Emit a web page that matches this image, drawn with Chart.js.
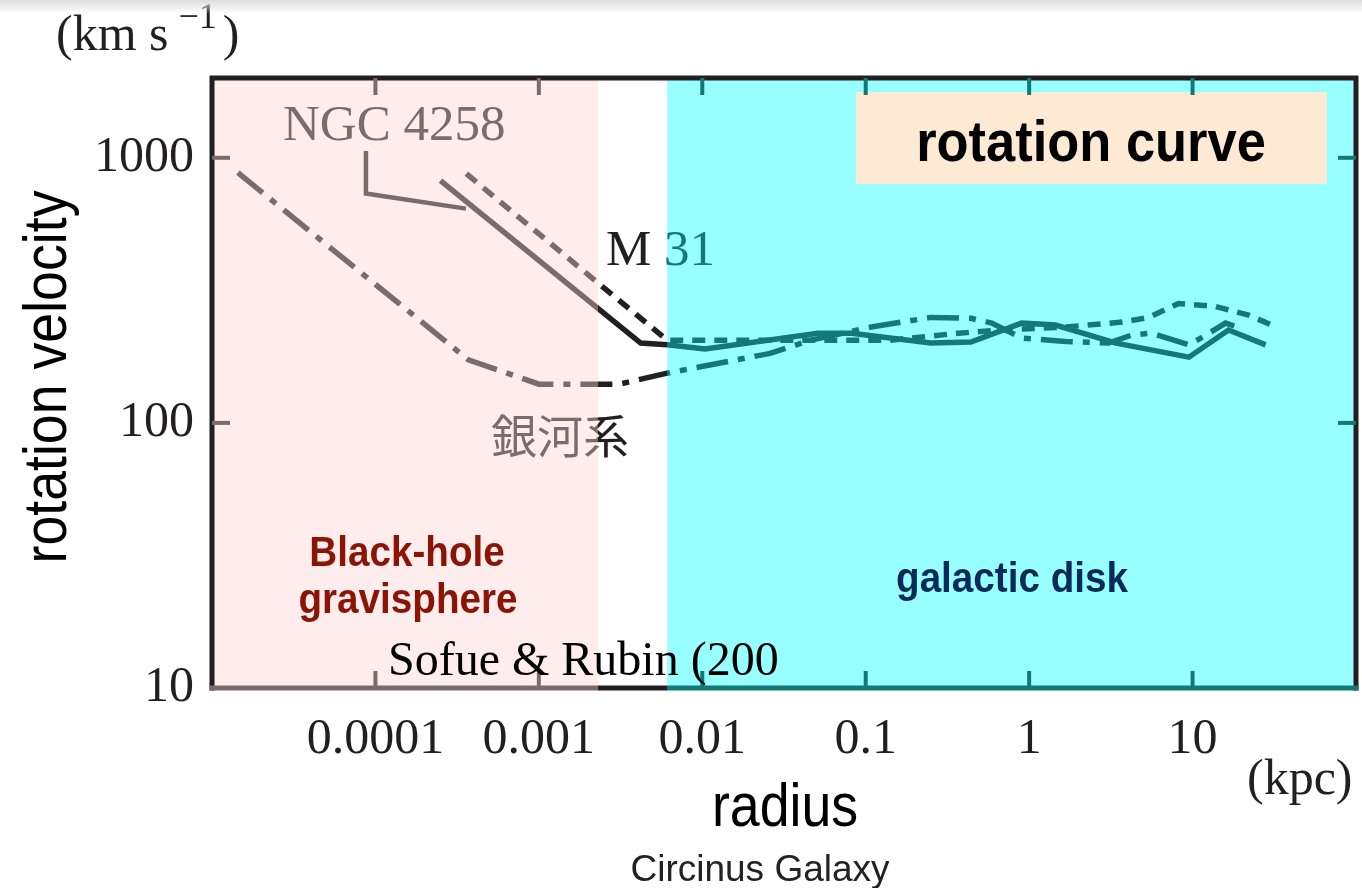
<!DOCTYPE html>
<html>
<head>
<meta charset="utf-8">
<script src="https://cdn.jsdelivr.net/npm/chart.js@4.4.1/dist/chart.umd.min.js"></script>
<style>
  html, body { margin: 0; padding: 0; background: #fff; }
  #wrap { position: relative; width: 1362px; height: 888px; }
  #shade { position: absolute; left: 0; top: 0; width: 1362px; height: 14px;
           background: linear-gradient(#dcdcdc, rgba(255,255,255,0)); }
</style>
</head>
<body>
<div id="wrap">
  <canvas id="rotationChart" width="1362" height="888"></canvas>
  <div id="shade"></div>
</div>
<script>
// axis ranges and ticks (radius in kpc, velocity in km/s)
const xMin = 0.00001, xMax = 100;
const yMin = 10, yMax = 2000;
const xTickValues = [0.0001, 0.001, 0.01, 0.1, 1, 10];
const xTickLabels = ['0.0001', '0.001', '0.01', '0.1', '1', '10'];
const yTickValues = [10, 100, 1000];
const yTickLabels = ['10', '100', '1000'];

// regions: black-hole gravisphere ends / galactic disk starts
const pinkEnd = 0.00231;
const cyanStart = 0.0061;

// NGC 4258 (solid)
const ngcRadius = [0.00025, 0.0042, 0.0061, 0.0104, 0.051, 0.082, 0.25, 0.44, 0.9, 1.45, 3.4, 9.5, 16.6, 28];
const ngcVelocity = [820, 200, 197, 190, 218, 218, 200, 202, 238, 234, 200, 177, 224, 197];

// M 31 (dashed)
const m31Radius = [0.00036, 0.0061, 0.14, 0.37, 0.65, 1.67, 3.7, 5.4, 8.2, 13.8, 22, 30.5];
const m31Velocity = [871, 205, 205, 218, 224, 230, 240, 250, 282, 275, 255, 234];

// Milky Way (dash-dot)
const mwRadius = [0.0000144, 0.00037, 0.001, 0.0031, 0.0061, 0.026, 0.046, 0.108, 0.25, 0.44, 0.59, 0.9, 1.67, 3.06, 4.2, 5.6, 7, 9.5, 12, 15.9, 18];
const mwVelocity = [879, 173, 140, 140, 154, 183, 205, 230, 250, 248, 238, 209, 203, 200, 214, 218, 209, 197, 214, 238, 232];

const GREY = '#7b6b6b';
const INK = '#231f20';
const TEAL = '#157878';
const SERIF = '"Liberation Serif", "DejaVu Serif", serif';
const SANS = '"Liberation Sans", Arial, sans-serif';

function toPoints(rs, vs) {
    return rs.map((r, i) => ({ x: r, y: vs[i] }));
}

/**
 * Hard-stop gradient: grey in the gravisphere, black in the gap, teal in the disk.
 */
function regionGradient(chart) {
    const { ctx, chartArea, scales } = chart;
    const a = scales.x.getPixelForValue(pinkEnd);
    const b = scales.x.getPixelForValue(cyanStart);
    const w = chartArea.right - chartArea.left;
    const fa = (a - chartArea.left) / w, fb = (b - chartArea.left) / w;
    const g = ctx.createLinearGradient(chartArea.left, 0, chartArea.right, 0);
    g.addColorStop(0, GREY); g.addColorStop(fa, GREY);
    g.addColorStop(fa, INK); g.addColorStop(fb, INK);
    g.addColorStop(fb, TEAL); g.addColorStop(1, TEAL);
    return g;
}

function lineColor(c) {
    return c.chart.chartArea ? regionGradient(c.chart) : INK;
}

// condensed sans text, drawn by squeezing a normal face
function narrowText(ctx, str, x, y, font, sx, color, rot) {
    ctx.save();
    ctx.translate(x, y);
    if (rot) ctx.rotate(rot);
    ctx.scale(sx, 1);
    ctx.font = font;
    ctx.fillStyle = color;
    ctx.textAlign = 'center';
    ctx.textBaseline = 'alphabetic';
    ctx.fillText(str, 0, 0);
    ctx.restore();
}

function plainText(ctx, str, x, y, font, color, align) {
    ctx.font = font;
    ctx.fillStyle = color;
    ctx.textAlign = align || 'left';
    ctx.textBaseline = 'alphabetic';
    ctx.fillText(str, x, y);
}

const regionPlugin = {
    id: 'regions',
    beforeDatasetsDraw(chart) {
        const { ctx, chartArea: a, scales: { x } } = chart;
        const p1 = x.getPixelForValue(pinkEnd);
        const p2 = x.getPixelForValue(cyanStart);
        ctx.save();
        ctx.fillStyle = '#ffecec';
        ctx.fillRect(a.left, a.top, p1 - a.left, a.bottom - a.top);
        ctx.fillStyle = '#98ffff';
        ctx.fillRect(p2, a.top, a.right - p2, a.bottom - a.top);
        // title box
        ctx.fillStyle = '#fde9d4';
        ctx.fillRect(856, 92, 471, 92);
        narrowText(ctx, 'rotation curve', 1091, 161, 'bold 57px ' + SANS, 0.92, '#000');
        ctx.restore();
    },
    afterDatasetsDraw(chart) {
        const { ctx, chartArea: a, scales: { x, y } } = chart;
        const grad = regionGradient(chart);
        ctx.save();

        // frame
        ctx.lineWidth = 5;
        ctx.lineCap = 'square';
        ctx.strokeStyle = INK;
        ctx.beginPath();
        ctx.moveTo(a.left, a.bottom); ctx.lineTo(a.left, a.top);
        ctx.lineTo(a.right, a.top); ctx.lineTo(a.right, a.bottom);
        ctx.stroke();
        ctx.strokeStyle = grad;
        ctx.beginPath();
        ctx.moveTo(a.left, a.bottom); ctx.lineTo(a.right, a.bottom);
        ctx.stroke();

        // inward ticks
        ctx.lineWidth = 4;
        ctx.lineCap = 'butt';
        xTickValues.forEach(v => {
            const px = x.getPixelForValue(v);
            ctx.strokeStyle = v < pinkEnd ? GREY : (v < cyanStart ? INK : TEAL);
            ctx.beginPath();
            ctx.moveTo(px, a.top); ctx.lineTo(px, a.top + 17);
            ctx.moveTo(px, a.bottom); ctx.lineTo(px, a.bottom - 17);
            ctx.stroke();
        });
        yTickValues.filter(v => v > yMin && v < yMax).forEach(v => {
            const py = y.getPixelForValue(v);
            ctx.strokeStyle = GREY;
            ctx.beginPath(); ctx.moveTo(a.left, py); ctx.lineTo(a.left + 18, py); ctx.stroke();
            ctx.strokeStyle = TEAL;
            ctx.beginPath(); ctx.moveTo(a.right, py); ctx.lineTo(a.right - 18, py); ctx.stroke();
        });

        // NGC 4258 pointer
        ctx.strokeStyle = GREY;
        ctx.lineWidth = 4.5;
        ctx.lineJoin = 'miter';
        ctx.beginPath();
        ctx.moveTo(x.getPixelForValue(0.0000875), y.getPixelForValue(1062));
        ctx.lineTo(x.getPixelForValue(0.0000875), y.getPixelForValue(733));
        ctx.lineTo(x.getPixelForValue(0.000358), y.getPixelForValue(643));
        ctx.stroke();

        // annotations
        plainText(ctx, 'NGC 4258', 283, 140, '51px ' + SERIF, GREY);
        plainText(ctx, 'M 31', 606, 265, '51px ' + SERIF, grad);
        ctx.font = '46px "Noto Sans CJK JP", sans-serif';
        ctx.fillStyle = grad;
        ctx.textBaseline = 'middle';
        ctx.textAlign = 'left';
        ctx.fillText('銀河系', 491, 436);
        narrowText(ctx, 'Black-hole', 407, 566, 'bold 42px ' + SANS, 0.92, '#8a1505');
        narrowText(ctx, 'gravisphere', 408, 613, 'bold 42px ' + SANS, 0.92, '#8a1505');
        narrowText(ctx, 'galactic disk', 1012, 592, 'bold 42px ' + SANS, 0.92, '#0b2a57');
        plainText(ctx, 'Sofue & Rubin (200', 388, 675, '48px ' + SERIF, '#000');

        // axis titles and units
        narrowText(ctx, 'radius', 785, 826, '61px ' + SANS, 0.88, '#000');
        narrowText(ctx, 'rotation velocity', 66, 377, '61px ' + SANS, 0.88, '#000', -Math.PI / 2);
        narrowText(ctx, 'Circinus Galaxy', 760, 881, '37px ' + SANS, 1, '#222');
        plainText(ctx, '(kpc)', 1247, 794, '50px ' + SERIF, INK);
        plainText(ctx, '(km s', 56, 50, '50px ' + SERIF, INK);
        ctx.font = '50px ' + SERIF;
        const w1 = ctx.measureText('(km s').width;
        plainText(ctx, '\u22121', 56 + w1 + 10, 28, '36px ' + SERIF, INK);
        ctx.font = '36px ' + SERIF;
        const w2 = ctx.measureText('\u22121').width;
        plainText(ctx, ')', 56 + w1 + w2 + 16, 50, '50px ' + SERIF, INK);
        ctx.restore();
    }
};

const ctx = document.getElementById('rotationChart').getContext('2d');
const rotationChart = new Chart(ctx, {
    type: 'line',
    data: {
        datasets: [
            {
                label: 'NGC 4258',
                data: toPoints(ngcRadius, ngcVelocity),
                borderColor: lineColor,
                borderWidth: 5.5,
                pointRadius: 0,
                tension: 0
            },
            {
                label: 'M 31',
                data: toPoints(m31Radius, m31Velocity),
                borderColor: lineColor,
                borderWidth: 5.5,
                borderDash: [13, 9],
                pointRadius: 0,
                tension: 0
            },
            {
                label: '銀河系',
                data: toPoints(mwRadius, mwVelocity),
                borderColor: lineColor,
                borderWidth: 5.5,
                borderDash: [32, 10, 7, 10],
                pointRadius: 0,
                tension: 0
            }
        ]
    },
    options: {
        responsive: false,
        animation: false,
        devicePixelRatio: 1,
        layout: { padding: { left: 0, top: 78, right: 6, bottom: 0 } },
        scales: {
            x: {
                type: 'logarithmic', min: xMin, max: xMax,
                afterBuildTicks: s => { s.ticks = xTickValues.map(v => ({ value: v })); },
                afterFit: s => { s.height = 200; },
                grid: { display: false, drawTicks: false },
                border: { display: false },
                ticks: {
                    autoSkip: false, maxRotation: 0, padding: 22, color: INK,
                    font: { family: SERIF, size: 50 },
                    callback: (v, i) => xTickLabels[i]
                }
            },
            y: {
                type: 'logarithmic', min: yMin, max: yMax,
                afterBuildTicks: s => { s.ticks = yTickValues.map(v => ({ value: v })); },
                afterFit: s => { s.width = 212; },
                grid: { display: false, drawTicks: false },
                border: { display: false },
                ticks: {
                    autoSkip: false, padding: 18, color: INK,
                    font: { family: SERIF, size: 50 },
                    callback: (v, i) => yTickLabels[i]
                }
            }
        },
        plugins: {
            legend: { display: false },
            tooltip: { enabled: false }
        }
    },
    plugins: [regionPlugin]
});
</script>
</body>
</html>
